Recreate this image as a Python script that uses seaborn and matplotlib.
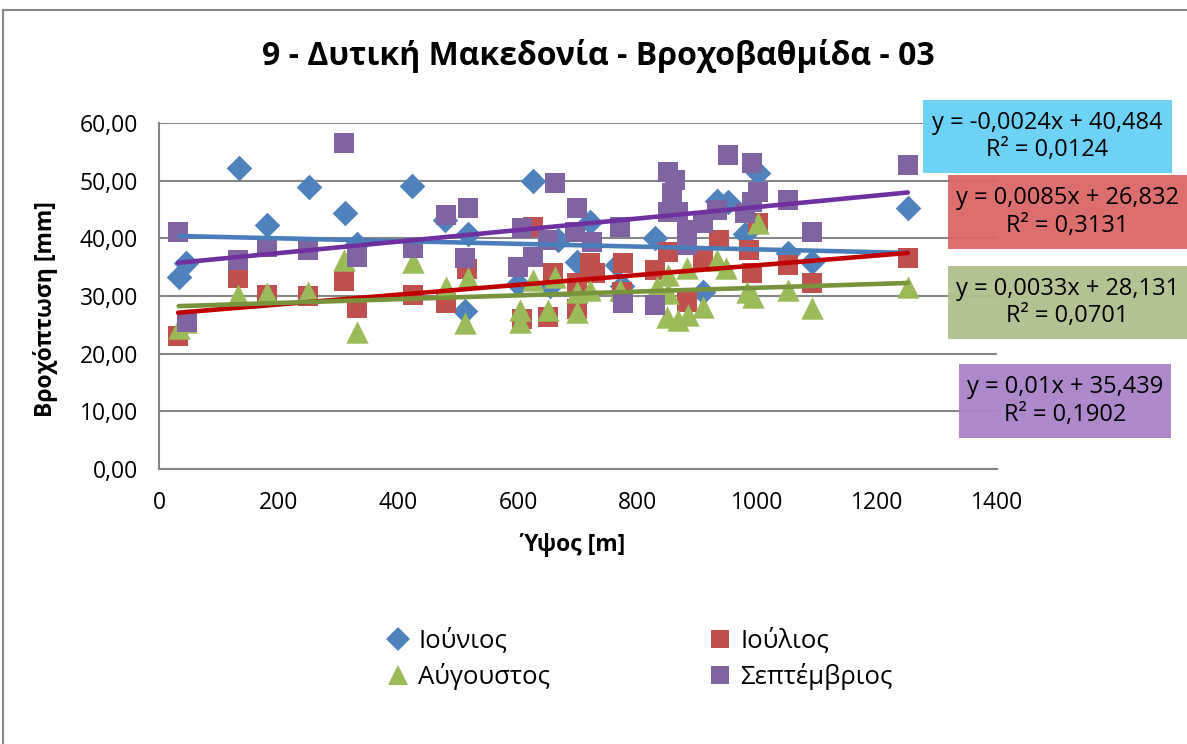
import numpy as np
import pandas as pd
import matplotlib
matplotlib.use("Agg")
import matplotlib.pyplot as plt
import seaborn as sns
from matplotlib.patches import Rectangle
from matplotlib.lines import Line2D

# ---------------- data ----------------
months = ["Ιούνιος", "Ιούλιος", "Αύγουστος", "Σεπτέμβριος"]

jun_x = [33, 45, 133, 181, 250, 310, 330, 423, 478, 511, 516, 600, 625, 653, 667,
         698, 720, 765, 773, 829, 909, 932, 950, 979, 1000, 1051, 1091, 1251]
jun_y = [33.3, 35.7, 52.2, 42.3, 48.9, 44.4, 39.0, 49.1, 43.2, 27.4, 40.7, 32.1, 49.9, 31.8, 39.7,
         35.9, 42.8, 35.4, 31.7, 40.1, 30.7, 46.5, 46.3, 40.8, 51.3, 37.5, 35.9, 45.3]

jul_x = [32, 132, 180, 249, 309, 331, 424, 479, 514, 606, 624, 650, 658, 698, 699,
         720, 728, 773, 775, 829, 850, 882, 909, 935, 985, 990, 1000, 1051, 1091, 1251]
jul_y = [23.1, 33.1, 30.2, 30.0, 32.6, 27.9, 30.2, 28.8, 34.6, 26.0, 41.9, 26.4, 34.0, 27.7, 32.3,
         35.8, 34.0, 30.7, 35.7, 34.5, 37.6, 29.0, 36.2, 39.7, 38.0, 34.0, 42.6, 35.4, 32.3, 36.6]

aug_x = [33, 45, 132, 180, 249, 309, 331, 424, 479, 511, 516, 603, 603, 625, 650, 662, 698, 698,
         720, 770, 832, 850, 850, 849, 867, 882, 884, 909, 932, 948, 982, 992, 1000, 1051, 1091, 1251]
aug_y = [24.5, 25.5, 30.2, 30.5, 30.7, 36.2, 23.8, 35.9, 31.6, 25.3, 33.1, 27.6, 25.5, 32.8, 27.6, 33.3, 30.7, 27.2,
         31.0, 31.0, 31.6, 33.6, 30.5, 26.4, 25.8, 34.9, 26.7, 28.1, 36.2, 34.9, 30.7, 29.8, 42.6, 31.0, 27.9, 31.6]

sep_x = [32, 47, 132, 180, 249, 309, 331, 424, 479, 511, 516, 600, 606, 625, 650, 662, 695, 698, 723, 770,
         775, 829, 850, 850, 857, 862, 867, 882, 882, 909, 932, 950, 979, 990, 990, 1000, 1051, 1091, 1251]
sep_y = [41.1, 25.5, 36.2, 38.5, 38.0, 56.5, 36.8, 38.3, 44.0, 36.6, 45.3, 35.0, 41.8, 36.8, 39.7, 49.6, 41.1, 45.3, 39.4, 42.0,
         28.8, 28.4, 51.5, 44.6, 47.9, 50.1, 44.6, 41.4, 38.8, 42.6, 44.9, 54.4, 44.4, 53.1, 46.3, 48.0, 46.6, 41.1, 52.7]

trend_slope = [-0.0024, 0.0085, 0.0033, 0.01]
trend_intercept = [40.484, 26.832, 28.131, 35.439]
eq_labels = ["y = -0,0024x + 40,484\nR² = 0,0124",
             "y = 0,0085x + 26,832\nR² = 0,3131",
             "y = 0,0033x + 28,131\nR² = 0,0701",
             "y = 0,01x + 35,439\nR² = 0,1902"]

x_ticks = [0, 200, 400, 600, 800, 1000, 1200, 1400]
y_ticks = [0, 10, 20, 30, 40, 50, 60]
y_tick_labels = ["0,00", "10,00", "20,00", "30,00", "40,00", "50,00", "60,00"]

title = "9 - Δυτική Μακεδονία - Βροχοβαθμίδα - 03"
xlabel = "Ύψος [m]"
ylabel = "Βροχόπτωση [mm]"

# ---------------- style ----------------
sns.set_theme(style="white")
plt.rcParams["font.family"] = ["Open Sans", "DejaVu Sans"]
plt.rcParams["text.color"] = "black"

marker_col = ["#4F81BD", "#C0504D", "#9BBB59", "#8064A2"]
line_col = ["#4A7EBB", "#C00000", "#77933C", "#7030A0"]
markers = ["D", "s", "^", "s"]
msizes = [170, 215, 260, 215]
box_col = ["#66CFF6", "#DA6666", "#AFBF8C", "#A983C8"]
grid_col = "#868686"

W, H = 1187, 744
fig = plt.figure(figsize=(W / 100, H / 100), dpi=100)
fig.patch.set_facecolor("white")

# chart border (top/left visible)
fig.add_artist(Line2D([3 / W, 3 / W], [0, 1 - 10 / H], transform=fig.transFigure, color=grid_col, lw=1.5))
fig.add_artist(Line2D([3 / W, 1], [1 - 10 / H, 1 - 10 / H], transform=fig.transFigure, color=grid_col, lw=1.5))

ax_l, ax_r, ax_t, ax_b = 159, 997, 123, 469
ax = fig.add_axes([ax_l / W, 1 - ax_b / H, (ax_r - ax_l) / W, (ax_b - ax_t) / H])

df = pd.concat([
    pd.DataFrame({"alt": jun_x, "rain": jun_y, "month": months[0]}),
    pd.DataFrame({"alt": jul_x, "rain": jul_y, "month": months[1]}),
    pd.DataFrame({"alt": aug_x, "rain": aug_y, "month": months[2]}),
    pd.DataFrame({"alt": sep_x, "rain": sep_y, "month": months[3]}),
])

for i, m in enumerate(months):
    sub = df[df["month"] == m]
    sns.scatterplot(data=sub, x="alt", y="rain", marker=markers[i], color=marker_col[i],
                    s=msizes[i], linewidth=0, ax=ax, legend=False, zorder=3)

for i, m in enumerate(months):
    sub = df[df["month"] == m]
    xs = np.array([sub["alt"].min(), sub["alt"].max()], dtype=float)
    ys = trend_slope[i] * xs + trend_intercept[i]
    ax.plot(xs, ys, color=line_col[i], lw=3.3, solid_capstyle="round", zorder=4)

ax.set_xlim(0, 1400)
ax.set_ylim(0, 60)
ax.set_xticks(x_ticks)
ax.set_xticklabels([str(v) for v in x_ticks])
ax.set_yticks(y_ticks)
ax.set_yticklabels(y_tick_labels)
ax.yaxis.grid(True, color=grid_col, lw=1.5)
ax.xaxis.grid(False)
ax.set_axisbelow(True)
for s in ["top", "right"]:
    ax.spines[s].set_visible(False)
ax.spines["left"].set_color(grid_col)
ax.spines["left"].set_linewidth(1.5)
ax.spines["bottom"].set_color(grid_col)
ax.spines["bottom"].set_linewidth(1.5)
ax.tick_params(axis="both", which="major", labelsize=16.5, labelcolor="black", color=grid_col,
               length=5, width=1.5, direction="out")
ax.tick_params(axis="y", pad=10)
ax.tick_params(axis="x", pad=11)
ax.set_xlabel(xlabel, fontsize=16.5, fontweight="bold", color="black")
ax.set_ylabel(ylabel, fontsize=16.5, fontweight="bold", color="black")
ax.xaxis.set_label_coords((573 - ax_l) / (ax_r - ax_l), (ax_b - 545) / (ax_b - ax_t))
ax.yaxis.set_label_coords((45 - ax_l) / (ax_r - ax_l), (ax_b - 309) / (ax_b - ax_t))
ax.xaxis.label.set_va("center")
ax.yaxis.label.set_va("center")
ax.set_facecolor("none")

fig.text(598 / W, 1 - 56 / H, title, ha="center", va="center", fontsize=23, fontweight="bold",
         color="black")

# equation boxes (pixel rectangles: x0, y0, x1, y1)
boxes = [(923, 100, 1172, 173), (948, 175, 1190, 249), (948, 266, 1190, 339), (959, 364, 1171, 438)]
for i, (x0, y0, x1, y1) in enumerate(boxes):
    fig.add_artist(Rectangle((x0 / W, 1 - y1 / H), (x1 - x0) / W, (y1 - y0) / H,
                             transform=fig.transFigure, facecolor=box_col[i], edgecolor="none",
                             alpha=0.95, zorder=5))
    fig.text(((x0 + min(x1, 1187)) / 2) / W, 1 - ((y0 + y1) / 2) / H, eq_labels[i],
             ha="center", va="center", fontsize=17, linespacing=1.2, zorder=6, color="black")

handles = [Line2D([], [], marker=markers[i], color=marker_col[i], linestyle="none",
                  markersize=[12, 13, 15, 13][i], markeredgewidth=0) for i in range(4)]
order = [0, 2, 1, 3]
fig.legend([handles[k] for k in order], [months[k] for k in order], ncol=2,
           loc="center left", bbox_to_anchor=(385 / W, 1 - 659 / H), frameon=False,
           borderaxespad=0, borderpad=0,
           fontsize=18.5, handlelength=1.0, handletextpad=0.3, columnspacing=6.1, labelspacing=0.38)

fig.savefig("out.png", dpi=100)
